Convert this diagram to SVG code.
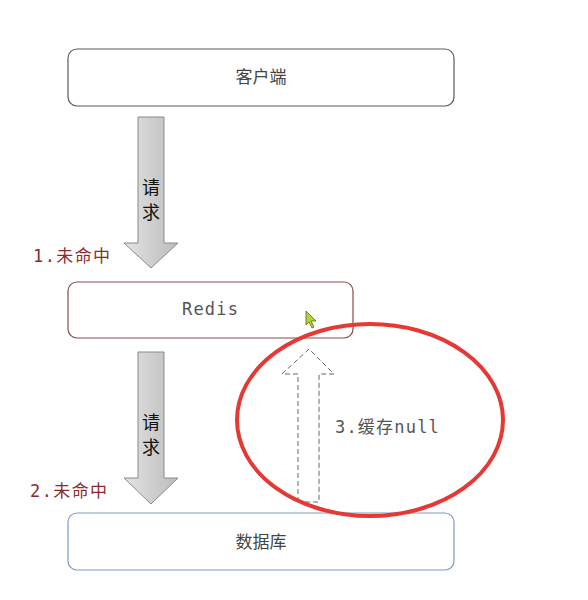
<svg xmlns="http://www.w3.org/2000/svg" width="588" height="600" viewBox="0 0 588 600">
<defs>
<linearGradient id="gh" x1="0" y1="0" x2="1" y2="0">
<stop offset="0" stop-color="#e4e4e4"/>
<stop offset="0.5" stop-color="#cfcfcf"/>
<stop offset="1" stop-color="#bdbdbd"/>
</linearGradient>
</defs>
<style>
.box{fill:#fff;stroke-width:1.2}
.t{font-family:"Noto Sans CJK SC","Liberation Sans",sans-serif;font-size:17px;fill:#444;text-anchor:middle}
.mono{font-family:"DejaVu Sans Mono","Noto Sans CJK SC",monospace;font-size:17px;fill:#555;letter-spacing:1.2px}
.miss{font-family:"DejaVu Sans Mono","Noto Sans CJK SC",monospace;font-size:17px;fill:#8b2c2c;letter-spacing:1.4px}
.req{font-family:"Noto Sans CJK SC",sans-serif;font-size:18px;fill:#111;text-anchor:middle}
.fat{fill:url(#gh);stroke:#8a8a8a;stroke-width:1}
</style>
<rect width="588" height="600" fill="#fff"/>
<g id="client">
<rect class="box" x="68" y="49" width="386" height="57" rx="9" stroke="#5a5a5a"/>
<text class="t" x="261" y="83">客户端</text>
</g>
<g id="redis">
<rect class="box" x="68" y="282" width="285" height="56" rx="9" stroke="#8a4a4a"/>
<text class="mono" x="182" y="315">Redis</text>
</g>
<g id="db">
<rect class="box" x="68" y="513" width="386" height="57" rx="9" stroke="#7b9cc2"/>
<text class="t" x="261" y="548">数据库</text>
</g>
<g id="connectors">
<path class="fat" d="M138,117 H164 V243 H178 L151,268 L124,243 H138 Z"/>
<text class="req" x="151" y="194">请</text>
<text class="req" x="151" y="219">求</text>
<path class="fat" d="M138,352 H164 V478 H178 L151,504 L124,478 H138 Z"/>
<text class="req" x="151" y="429">请</text>
<text class="req" x="151" y="454">求</text>
<path d="M298,502 V374 H282 L309,349 L334,374 H319 V502 Z" fill="none" stroke="#666" stroke-width="1" stroke-dasharray="5,3"/>
</g>
<text class="miss" x="33" y="262">1.未命中</text>
<text class="miss" x="30" y="497">2.未命中</text>
<text class="mono" x="335" y="433">3.缓存null</text>
<ellipse cx="370" cy="420" rx="133" ry="96" fill="none" stroke="#e53935" stroke-width="4"/>
<path d="M306,311 L306,325 L309,322 L312,328 L314,327 L311,321 L316,321 Z" fill="#b5d033" stroke="#556b10" stroke-width="0.8"/>
</svg>
